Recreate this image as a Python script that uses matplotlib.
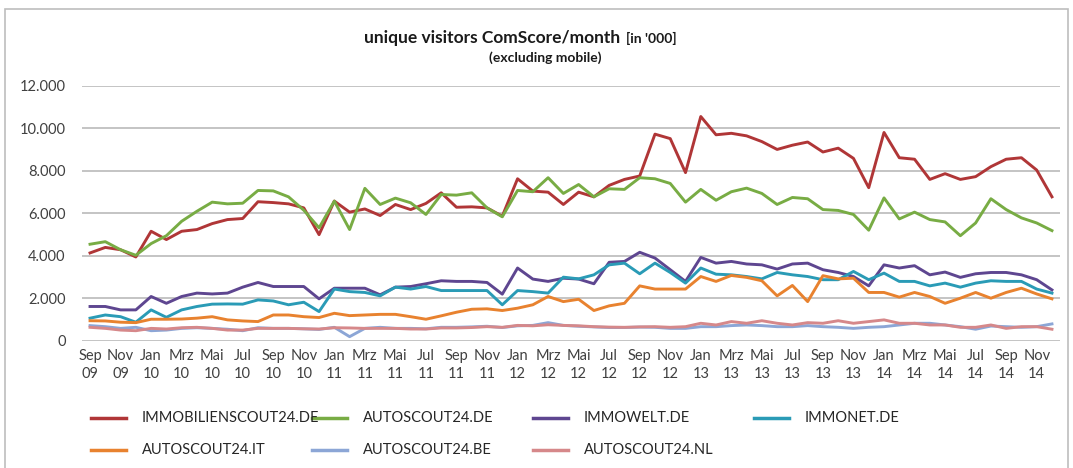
import numpy as np
import matplotlib
matplotlib.use("Agg")
import matplotlib.pyplot as plt
from matplotlib.lines import Line2D
from matplotlib.patches import Rectangle
from matplotlib.ticker import FuncFormatter

plt.rcParams['font.family'] = ['Lato', 'DejaVu Sans']

# month axis: Sep 2009 .. Dec 2014
month_names = ["Jan", "Feb", "Mrz", "Apr", "Mai", "Jun",
               "Jul", "Aug", "Sep", "Okt", "Nov", "Dez"]
start_year, start_month = 2009, 9
n_months = 64

# unique visitors in '000 (in thousands)
immobilienscout_de = [4.13, 4.39, 4.28, 3.94, 5.15, 4.76, 5.15, 5.23, 5.51, 5.70, 5.75, 6.54, 6.50,
                      6.44, 6.25, 4.99, 6.57, 6.05, 6.20, 5.89, 6.41, 6.17, 6.46, 6.96, 6.28,
                      6.30, 6.25, 5.86, 7.62, 7.04, 6.99, 6.41, 6.99, 6.77, 7.31, 7.59, 7.75,
                      9.72, 9.51, 7.91, 10.55, 9.69, 9.76, 9.64, 9.37, 9.00, 9.20, 9.35, 8.88, 9.06,
                      8.58, 7.20, 9.80, 8.61, 8.54, 7.59, 7.86, 7.59, 7.72, 8.19, 8.54, 8.61, 8.03, 6.77]
autoscout_de = [4.54, 4.66, 4.28, 4.02, 4.57, 4.94, 5.62, 6.09, 6.52, 6.44, 6.47, 7.07, 7.05,
                6.77, 6.14, 5.31, 6.57, 5.23, 7.17, 6.41, 6.71, 6.49, 5.94, 6.88, 6.85,
                6.96, 6.25, 5.83, 7.07, 7.01, 7.67, 6.93, 7.35, 6.77, 7.15, 7.12, 7.67,
                7.62, 7.40, 6.52, 7.12, 6.61, 7.01, 7.18, 6.93, 6.41, 6.74, 6.68, 6.17, 6.13,
                5.94, 5.20, 6.72, 5.73, 6.05, 5.70, 5.59, 4.94, 5.54, 6.68, 6.17, 5.78, 5.54, 5.18]
immowelt_de = [1.61, 1.61, 1.45, 1.45, 2.08, 1.76, 2.08, 2.24, 2.20, 2.24, 2.52, 2.74, 2.55,
               2.55, 2.55, 1.97, 2.47, 2.47, 2.47, 2.16, 2.52, 2.55, 2.68, 2.82, 2.79,
               2.79, 2.74, 2.19, 3.42, 2.90, 2.79, 2.94, 2.90, 2.68, 3.69, 3.73, 4.16,
               3.89, 3.34, 2.79, 3.92, 3.65, 3.73, 3.61, 3.57, 3.37, 3.61, 3.65, 3.34, 3.21,
               3.02, 2.58, 3.57, 3.42, 3.53, 3.10, 3.23, 2.98, 3.15, 3.21, 3.21, 3.10, 2.87, 2.39]
immonet_de = [1.06, 1.21, 1.13, 0.87, 1.45, 1.10, 1.45, 1.61, 1.72, 1.73, 1.72, 1.92, 1.87,
              1.69, 1.81, 1.37, 2.43, 2.31, 2.27, 2.11, 2.52, 2.43, 2.55, 2.36, 2.36,
              2.36, 2.36, 1.69, 2.36, 2.31, 2.24, 2.99, 2.91, 3.10, 3.57, 3.65, 3.15,
              3.65, 3.21, 2.71, 3.42, 3.13, 3.10, 3.02, 2.91, 3.21, 3.10, 3.02, 2.87, 2.87,
              3.26, 2.87, 3.18, 2.79, 2.79, 2.58, 2.71, 2.52, 2.71, 2.82, 2.79, 2.79, 2.43, 2.24]
autoscout_it = [0.94, 0.93, 0.87, 0.85, 1.01, 1.01, 1.02, 1.06, 1.13, 0.98, 0.93, 0.90, 1.21,
                1.21, 1.13, 1.09, 1.29, 1.18, 1.21, 1.24, 1.24, 1.13, 1.01, 1.17, 1.34,
                1.48, 1.50, 1.42, 1.53, 1.69, 2.08, 1.84, 1.95, 1.42, 1.64, 1.76, 2.58,
                2.43, 2.43, 2.43, 3.02, 2.79, 3.07, 2.98, 2.82, 2.11, 2.60, 1.84, 3.06, 2.91,
                2.94, 2.27, 2.27, 2.05, 2.27, 2.08, 1.76, 2.00, 2.27, 2.00, 2.27, 2.47, 2.20, 1.97]
autoscout_be = [0.71, 0.66, 0.58, 0.63, 0.47, 0.50, 0.58, 0.61, 0.58, 0.54, 0.47, 0.61, 0.58,
                0.58, 0.56, 0.53, 0.63, 0.19, 0.58, 0.63, 0.58, 0.58, 0.56, 0.63, 0.63,
                0.65, 0.68, 0.62, 0.70, 0.72, 0.85, 0.72, 0.68, 0.65, 0.62, 0.62, 0.64,
                0.63, 0.58, 0.58, 0.66, 0.66, 0.71, 0.74, 0.71, 0.66, 0.66, 0.71, 0.66, 0.63,
                0.58, 0.63, 0.66, 0.74, 0.82, 0.82, 0.74, 0.66, 0.54, 0.69, 0.66, 0.63, 0.66, 0.79]
autoscout_nl = [0.63, 0.58, 0.50, 0.47, 0.58, 0.55, 0.61, 0.63, 0.58, 0.50, 0.50, 0.58, 0.58,
                0.58, 0.56, 0.55, 0.61, 0.60, 0.58, 0.58, 0.58, 0.55, 0.55, 0.60, 0.60,
                0.62, 0.66, 0.63, 0.72, 0.70, 0.75, 0.72, 0.70, 0.66, 0.64, 0.63, 0.65,
                0.66, 0.63, 0.66, 0.82, 0.74, 0.90, 0.82, 0.94, 0.82, 0.74, 0.85, 0.82, 0.94,
                0.82, 0.90, 0.98, 0.82, 0.82, 0.74, 0.74, 0.63, 0.63, 0.74, 0.58, 0.66, 0.66, 0.54]

series_names = ["IMMOBILIENSCOUT24.DE", "AUTOSCOUT24.DE", "IMMOWELT.DE", "IMMONET.DE",
                "AUTOSCOUT24.IT", "AUTOSCOUT24.BE", "AUTOSCOUT24.NL"]
series = [immobilienscout_de, autoscout_de, immowelt_de, immonet_de,
          autoscout_it, autoscout_be, autoscout_nl]
colors = ["#B03637", "#78AC44", "#5E4690", "#2A9BB6", "#E8822F", "#8CA6D6", "#D6888A"]

# tick labels like "Sep\n09"
labels = []
for i in range(n_months):
    m = (start_month - 1 + i) % 12
    y = start_year + (start_month - 1 + i) // 12
    labels.append(month_names[m] + "\n" + str(y)[2:])

W, H = 1073, 468
fig = plt.figure(figsize=(W / 100, H / 100), dpi=100)
fig.patch.set_facecolor("white")

# outer chart frame
fig.patches.append(Rectangle((5 / W, -0.05), 1063 / W, 1.05 - 9 / H,
                             transform=fig.transFigure, fill=False,
                             edgecolor="#BDBDBD", lw=1.2))

ax = fig.add_axes([82.4 / W, 1 - 340.7 / H, 977.2 / W, 255.0 / H])
x = np.arange(n_months)
for vals, c in zip(series, colors):
    ax.plot(x, np.array(vals) * 1000, color=c, lw=2.1, solid_joinstyle="round")

ax.set_xlim(-0.5, n_months - 0.5)
ax.set_ylim(0, 12000)
ax.set_yticks(np.arange(0, 12001, 2000))
ax.yaxis.set_major_formatter(FuncFormatter(lambda v, p: "{:,.0f}".format(v).replace(",", ".")))
ax.set_xticks(x[::2])
ax.set_xticklabels(labels[::2], linespacing=1.35)
ax.grid(axis="y", color="#BFBFBF", lw=1.3)
ax.set_axisbelow(True)
for s in ax.spines.values():
    s.set_visible(False)
ax.tick_params(axis="both", length=0, labelsize=10.5, colors="#404040")
ax.tick_params(axis="y", pad=12)
ax.tick_params(axis="x", pad=6)

# title
fig.text(620 / W, 1 - 43 / H, "unique visitors ComScore/month", ha="right", va="baseline",
         fontsize=12.5, fontweight="bold", color="#1a1a1a")
fig.text(626 / W, 1 - 43 / H, "[in '000]", ha="left", va="baseline",
         fontsize=10, fontweight="bold", color="#1a1a1a")
fig.text(545 / W, 1 - 62 / H, "(excluding mobile)", ha="center", va="baseline",
         fontsize=10, fontweight="bold", color="#1a1a1a")

# legend, 4 equal columns
for k, (name, c) in enumerate(zip(series_names, colors)):
    col, row = k % 4, k // 4
    yy = 1 - (418 + 32 * row) / H
    x0 = 91 + 221 * col
    fig.add_artist(Line2D([x0 / W, (x0 + 35) / W], [yy, yy], color=c, lw=2.5,
                          transform=fig.transFigure))
    fig.text((x0 + 51) / W, yy, name, ha="left", va="center", fontsize=10.5, color="#262626")

fig.savefig("out.png", dpi=100)
